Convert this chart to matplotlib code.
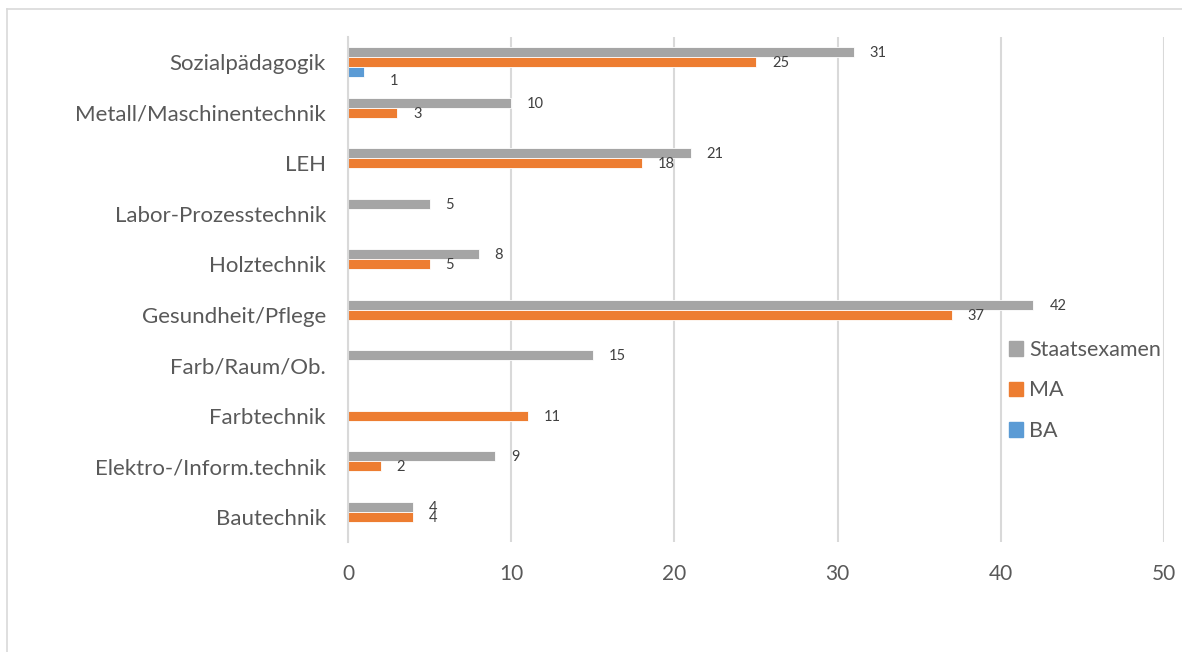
import matplotlib
matplotlib.use("Agg")
import matplotlib.pyplot as plt
from matplotlib.lines import Line2D
from matplotlib.patches import Patch
import numpy as np

# Fachrichtungen (bottom to top) and counts per degree type
categories = [
    "Bautechnik",
    "Elektro-/Inform.technik",
    "Farbtechnik",
    "Farb/Raum/Ob.",
    "Gesundheit/Pflege",
    "Holztechnik",
    "Labor-Prozesstechnik",
    "LEH",
    "Metall/Maschinentechnik",
    "Sozialpädagogik",
]
staatsexamen = [4, 9, 0, 15, 42, 8, 5, 21, 10, 31]
ma = [4, 2, 11, 0, 37, 5, 0, 18, 3, 25]
ba = [0, 0, 0, 0, 0, 0, 0, 0, 0, 1]
series_names = ["Staatsexamen", "MA", "BA"]
x_ticks = [0, 10, 20, 30, 40, 50]

colors = ["#A5A5A5", "#ED7D31", "#5B9BD5"]
text_color = "#595959"
label_color = "#404040"
grid_color = "#D9D9D9"

plt.rcParams["font.family"] = ["Lato", "DejaVu Sans"]

W, H = 1182, 652
fig = plt.figure(figsize=(W / 100, H / 100), dpi=100)

# chart area frame: top and left edges
fig.add_artist(Line2D([7 / W, 1.0], [1 - 9 / H, 1 - 9 / H], transform=fig.transFigure,
                      color=grid_color, linewidth=1.2))
fig.add_artist(Line2D([7 / W, 7 / W], [0.0, 1 - 9 / H], transform=fig.transFigure,
                      color=grid_color, linewidth=1.2))

ax = fig.add_axes([348 / W, 1 - 542 / H, (1164 - 348) / W, (542 - 37) / H])

y = np.arange(len(categories))
bar_h = 0.2
offsets = [bar_h, 0.0, -bar_h]
data = [staatsexamen, ma, ba]

for values, off, col, name in zip(data, offsets, colors, series_names):
    bars = ax.barh(y + off, values, height=bar_h, color=col, label=name,
                   edgecolor="white", linewidth=0.6)
    for rect, v in zip(bars, values):
        if v == 0:
            continue
        dx, dy = 16, -1
        if name == "BA":
            dx, dy = 25, -9
        ax.annotate(str(v), (rect.get_width(), rect.get_y() + rect.get_height() / 2),
                    xytext=(dx * 0.72, dy * 0.72), textcoords="offset points",
                    ha="left", va="center", fontsize=10.5, color=label_color)

ax.set_xlim(0, 50)
ax.set_ylim(-0.5, len(categories) - 0.5)
ax.set_xticks(x_ticks)
ax.set_xticklabels([str(t) for t in x_ticks])
ax.set_yticks(y)
ax.set_yticklabels(categories)
ax.tick_params(axis="y", length=0, pad=16, labelsize=16, labelcolor=text_color)
ax.tick_params(axis="x", length=0, pad=16, labelsize=15, labelcolor=text_color)
ax.grid(axis="x", color=grid_color, linewidth=1.5)
ax.set_axisbelow(True)
for s in ["top", "right", "bottom"]:
    ax.spines[s].set_visible(False)
ax.spines["left"].set_color(grid_color)
ax.spines["left"].set_linewidth(1.5)

handles = [Patch(color=c, label=n) for c, n in zip(colors, series_names)]
ax.legend(handles=handles, loc="upper left",
          bbox_to_anchor=((1009 - 348) / (1164 - 348), (542 - 340) / (542 - 37)),
          frameon=False, fontsize=15.5, labelcolor=text_color,
          handlelength=0.65, handleheight=0.65, handletextpad=0.3,
          labelspacing=0.95, borderaxespad=0, borderpad=0)

fig.savefig("out.png", dpi=100)
